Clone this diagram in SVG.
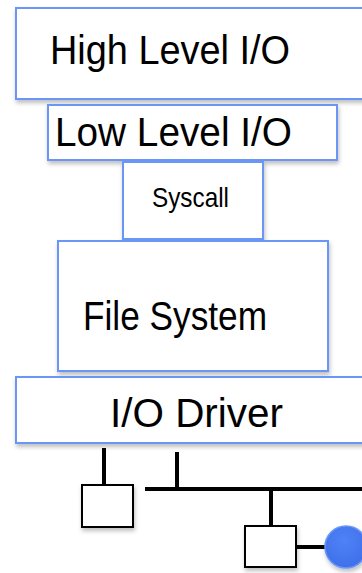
<svg xmlns="http://www.w3.org/2000/svg" width="362" height="573" viewBox="0 0 362 573">
<defs>
<filter id="sh" x="-10%" y="-10%" width="130%" height="140%">
<feDropShadow dx="1" dy="3" stdDeviation="2" flood-color="#000" flood-opacity="0.25"/>
</filter>
<radialGradient id="blue" cx="0.45" cy="0.35" r="0.7">
<stop offset="0" stop-color="#4f82f7"/>
<stop offset="1" stop-color="#3d6ee8"/>
</radialGradient>
<style>
.box{fill:#fff;stroke:#6a97f7;stroke-width:2;filter:url(#sh)}
.lbl{font-family:"Liberation Sans",Arial,sans-serif;fill:#000}
.bus{stroke:#000;stroke-width:4;fill:none}
.dev{fill:#fff;stroke:#000;stroke-width:2;filter:url(#sh)}
</style>
</defs>
<g id="high-level-io">
<rect class="box" x="16" y="8" width="360" height="91"/>
<text class="lbl" x="50" y="64" font-size="40" textLength="240" lengthAdjust="spacingAndGlyphs">High Level I/O</text>
</g>
<g id="low-level-io">
<rect class="box" x="48" y="105" width="289" height="55"/>
<text class="lbl" x="55" y="146" font-size="40" textLength="237" lengthAdjust="spacingAndGlyphs">Low Level I/O</text>
</g>
<g id="syscall">
<rect class="box" x="123" y="162" width="140" height="77"/>
<text class="lbl" x="152" y="207" font-size="28" textLength="77" lengthAdjust="spacingAndGlyphs">Syscall</text>
</g>
<g id="file-system">
<rect class="box" x="58" y="241" width="270" height="130"/>
<text class="lbl" x="83" y="330" font-size="40" textLength="184" lengthAdjust="spacingAndGlyphs">File System</text>
</g>
<g id="io-driver">
<rect class="box" x="16" y="377" width="360" height="66"/>
<text class="lbl" x="110" y="427" font-size="40" textLength="173" lengthAdjust="spacingAndGlyphs">I/O Driver</text>
</g>
<g id="connectors">
<line class="bus" x1="104" y1="448" x2="104" y2="486"/>
<line class="bus" x1="177" y1="452" x2="177" y2="489"/>
<line class="bus" x1="145" y1="489" x2="362" y2="489"/>
<line class="bus" x1="271" y1="489" x2="271" y2="527"/>
<line class="bus" x1="296" y1="547" x2="326" y2="547"/>
</g>
<g id="device-1">
<rect class="dev" x="82" y="485" width="51" height="42"/>
</g>
<g id="device-2">
<rect class="dev" x="245" y="526" width="51" height="41"/>
</g>
<g id="disk">
<circle cx="346" cy="547" r="21" fill="url(#blue)" stroke="#6a97f7" stroke-width="1.5" filter="url(#sh)"/>
</g>
</svg>
